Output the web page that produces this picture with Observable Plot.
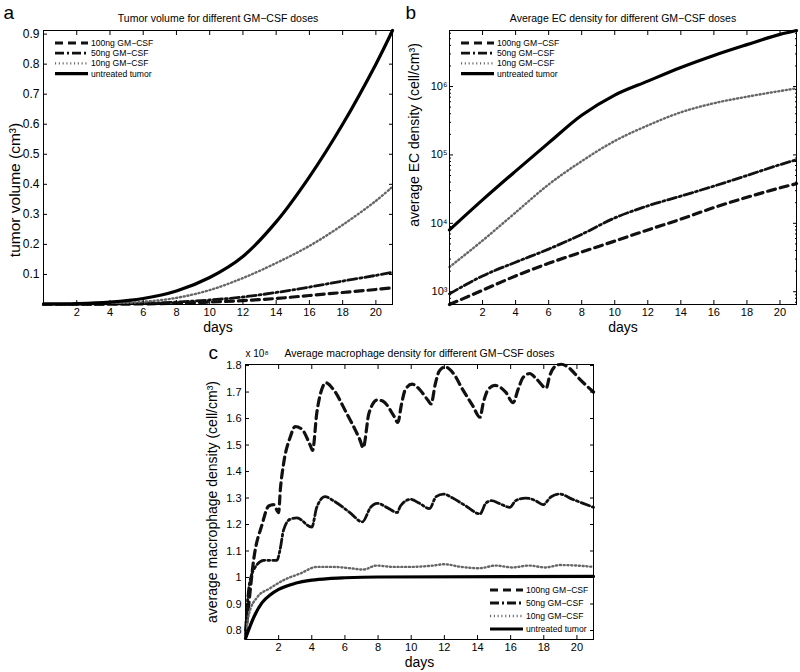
<!DOCTYPE html>
<html><head><meta charset="utf-8">
<script src="https://cdn.jsdelivr.net/npm/d3@7"></script>
<script src="https://cdn.jsdelivr.net/npm/@observablehq/plot@0.6"></script>
<style>
body{margin:0;background:#fff;}
#wrap{position:relative;width:800px;height:672px;overflow:hidden;font-family:"Liberation Sans",Arial,sans-serif;}
#wrap svg{position:absolute;overflow:visible;}
</style></head><body><div id="wrap"></div>
<script>
// ---------- data ----------
const seriesNames = ["100ng GM\u2212CSF", "50ng GM\u2212CSF", "10ng GM\u2212CSF", "untreated tumor"];

// Panel a: tumor volume (cm^3)
const daysAB = [0, 2, 4, 6, 8, 10, 12, 14, 16, 18, 20, 21];
const volume100 = [0, 0, 0.001, 0.002, 0.004, 0.008, 0.013, 0.02, 0.03, 0.04, 0.05, 0.056];
const volume50 = [0, 0.001, 0.002, 0.004, 0.008, 0.015, 0.025, 0.04, 0.058, 0.078, 0.097, 0.107];
const volume10 = [0.001, 0.001, 0.003, 0.009, 0.022, 0.048, 0.088, 0.138, 0.195, 0.265, 0.345, 0.392];
const volumeUntreated = [0.002, 0.003, 0.008, 0.02, 0.045, 0.09, 0.16, 0.275, 0.425, 0.6, 0.8, 0.912];

// Panel b: average EC density (cell/cm^3)
const ec100 = [650, 1050, 1700, 2600, 3800, 5500, 8000, 11500, 17000, 24000, 33000, 38000];
const ec50 = [930, 1700, 2700, 4200, 6900, 12000, 18000, 25000, 35000, 50000, 72000, 85000];
const ec10 = [2300, 5600, 14400, 37000, 81000, 160000, 270000, 420000, 570000, 710000, 860000, 940000];
const ecUntreated = [8000, 22000, 58000, 150000, 380000, 750000, 1200000, 1900000, 2850000, 4100000, 5800000, 6600000];

// Panel c: average macrophage density (x 1e8 cell/cm^3), [day, value]
const mac100 = [[0,0.78],[0.2,0.9],[0.5,1.07],[1.0,1.2],[1.4,1.27],[1.7,1.275],[2.0,1.245],[2.1,1.33],[2.3,1.43],[2.7,1.53],[3.0,1.57],[3.4,1.56],[3.9,1.5],[4.05,1.48],[4.3,1.62],[4.6,1.71],[4.85,1.735],[5.3,1.71],[6.1,1.62],[6.9,1.52],[7.1,1.49],[7.45,1.62],[7.95,1.67],[8.3,1.665],[8.95,1.61],[9.2,1.585],[9.4,1.65],[9.65,1.71],[10.05,1.73],[10.5,1.71],[11.0,1.67],[11.2,1.655],[11.45,1.73],[11.7,1.78],[12.05,1.795],[12.55,1.77],[13.1,1.71],[13.7,1.65],[14.15,1.605],[14.35,1.66],[14.65,1.71],[15.05,1.725],[15.7,1.7],[16.15,1.66],[16.45,1.71],[16.75,1.755],[17.15,1.77],[17.55,1.75],[18.15,1.715],[18.35,1.76],[18.65,1.795],[19.05,1.805],[19.55,1.79],[20.15,1.75],[21,1.7]];
const mac50 = [[0,0.8],[0.2,0.96],[0.5,1.03],[1.1,1.065],[1.9,1.065],[2.07,1.1],[2.3,1.18],[2.7,1.22],[3.1,1.225],[4.0,1.19],[4.3,1.265],[4.8,1.305],[5.3,1.29],[6.3,1.245],[7.05,1.21],[7.55,1.265],[7.95,1.28],[8.65,1.26],[9.15,1.245],[9.35,1.27],[9.95,1.295],[10.5,1.28],[11.1,1.26],[11.5,1.305],[11.95,1.315],[12.5,1.3],[13.3,1.27],[14.15,1.24],[14.5,1.28],[14.85,1.29],[15.3,1.28],[15.95,1.265],[16.3,1.29],[16.9,1.3],[17.5,1.29],[17.95,1.275],[18.45,1.305],[18.95,1.315],[19.75,1.295],[21,1.265]];
const mac10 = [[0,0.78],[0.2,0.86],[0.7,0.925],[1.5,0.96],[2.3,0.99],[3.3,1.015],[4.3,1.04],[5.3,1.04],[6.3,1.035],[7.1,1.03],[7.9,1.045],[8.9,1.04],[10,1.04],[11.3,1.045],[12,1.05],[13,1.04],[14.1,1.035],[15.1,1.045],[16.1,1.038],[17.1,1.045],[18.1,1.038],[19,1.047],[20,1.045],[21,1.04]];
const macUntreated = [[0,0.77],[0.5,0.85],[1,0.905],[1.5,0.935],[2,0.955],[3,0.978],[4,0.99],[5,0.996],[6,0.999],[8,1.002],[21,1.004]];

const dayTicks = [2, 4, 6, 8, 10, 12, 14, 16, 18, 20];
const volumeTicks = [0.1, 0.2, 0.3, 0.4, 0.5, 0.6, 0.7, 0.8, 0.9];
const ecTicks = [1e3, 1e4, 1e5, 1e6];
const ecTickLabels = ["10\u00B3", "10\u2074", "10\u2075", "10\u2076"];
const macTicks = [0.8, 0.9, 1.0, 1.1, 1.2, 1.3, 1.4, 1.5, 1.6, 1.7, 1.8];

// ---------- styles ----------
const lineStyles = [
  {stroke: "#111", strokeWidth: 3.2, strokeDasharray: "8,5"},
  {stroke: "#111", strokeWidth: 2.8, strokeDasharray: "9,3,2,3"},
  {stroke: "#666", strokeWidth: 2.4, strokeDasharray: "1.1,2.7"},
  {stroke: "#000", strokeWidth: 3.2}
];
const FONT = "Liberation Sans, Arial, sans-serif";
const wrap = document.getElementById("wrap");

function toPairs(xs, ys) { return xs.map((x, i) => ({x, y: ys[i]})); }

function panel(cfg) {
  const marks = [];
  cfg.series.forEach((s, i) => marks.push(Plot.line(s, {x: "x", y: "y", curve: cfg.curve, ...lineStyles[i]})));
  marks.push(Plot.frame({stroke: "black", strokeWidth: 1}));
  const ax = {tickSize: -4, tickPadding: 8, fontSize: 11, label: null};
  marks.push(Plot.axisX(dayTicks, {anchor: "bottom", ...ax}));
  marks.push(Plot.axisX(dayTicks, {anchor: "top", ...ax, tickFormat: () => ""}));
  marks.push(Plot.axisY(cfg.yTicks, {anchor: "left", ...ax, fontSize: cfg.yFont || 11, tickPadding: cfg.yPad || 8, tickFormat: cfg.yFormat}));
  marks.push(Plot.axisY(cfg.yTicks, {anchor: "right", ...ax, tickFormat: () => ""}));
  if (cfg.yMinor) {
    marks.push(Plot.axisY(cfg.yMinor, {anchor: "left", tickSize: -2, label: null, tickFormat: () => ""}));
    marks.push(Plot.axisY(cfg.yMinor, {anchor: "right", tickSize: -2, label: null, tickFormat: () => ""}));
  }
  const mid = {textAnchor: "middle", lineAnchor: "middle"};
  marks.push(Plot.text([cfg.title], {text: d => d, frameAnchor: "top", ...mid, dy: cfg.titleDy, fontSize: 10.5}));
  marks.push(Plot.text([cfg.letter], {text: d => d, frameAnchor: "top-left", textAnchor: "start", lineAnchor: "middle", dx: cfg.letterDx, dy: cfg.letterDy, fontSize: 19}));
  marks.push(Plot.text(["days"], {text: d => d, frameAnchor: "bottom", ...mid, dy: cfg.xlabelDy, fontSize: 14}));
  if (cfg.extra) marks.push(...cfg.extra);
  const svg = Plot.plot({
    width: cfg.width, height: cfg.height,
    marginLeft: cfg.m[3], marginRight: cfg.m[1], marginTop: cfg.m[0], marginBottom: cfg.m[2],
    x: {domain: [0, 21]},
    y: {type: cfg.yType || "linear", domain: cfg.yDomain},
    style: {fontFamily: FONT, fontSize: "11px", color: "black", background: "transparent", overflow: "visible"},
    marks
  });
  svg.style.left = cfg.left + "px";
  svg.style.top = cfg.top + "px";
  wrap.appendChild(svg);
  const s = d3.select(svg);
  // rotated y-axis title
  s.append("text")
    .attr("transform", `translate(${cfg.ylabelPos[0]},${cfg.ylabelPos[1]}) rotate(-90)`)
    .attr("text-anchor", "middle").attr("dy", "0.35em")
    .attr("font-family", FONT).attr("font-size", cfg.ylabelFont || 14).attr("fill", "black")
    .text(cfg.ylabel);
  // legend (swatches)
  const g = s.append("g").attr("font-family", FONT).attr("font-size", 8.6).attr("text-anchor", "start");
  seriesNames.forEach((name, i) => {
    const y = cfg.legend.y + i * cfg.legend.dy;
    const st = lineStyles[i];
    g.append("line").attr("x1", cfg.legend.x).attr("x2", cfg.legend.x + 33).attr("y1", y).attr("y2", y)
      .attr("stroke", st.stroke).attr("stroke-width", st.strokeWidth).attr("stroke-dasharray", st.strokeDasharray || null);
    g.append("text").attr("x", cfg.legend.x + 36).attr("y", y).attr("dy", "0.35em").attr("fill", "black").attr("text-anchor", "start").text(name);
  });
  return svg;
}

// Panel a
panel({
  left: 0, top: 0, width: 400, height: 340, m: [30, 8, 36, 43],
  series: [toPairs(daysAB, volume100), toPairs(daysAB, volume50), toPairs(daysAB, volume10), toPairs(daysAB, volumeUntreated)],
  curve: "catmull-rom",
  yDomain: [0, 0.912], yTicks: volumeTicks, yFormat: d => d.toFixed(1), yFont: 12,
  title: "Tumor volume for different GM\u2212CSF doses", titleDy: -12,
  letter: "a", letterDx: -40, letterDy: -18,
  ylabel: "tumor volume (cm\u00B3)", ylabelPos: [15, 190], ylabelFont: 15.5, xlabelDy: 23,
  legend: {x: 55, y: 43, dy: 10.2}
});

// Panel b
const ecMinor = [];
for (let e = 2; e <= 6; e++) for (let k = 2; k <= 9; k++) { const v = k * Math.pow(10, e); if (v >= 650 && v <= 6.6e6) ecMinor.push(v); }
panel({
  left: 400, top: 0, width: 400, height: 340, m: [30, 4, 36, 49],
  series: [toPairs(daysAB, ec100), toPairs(daysAB, ec50), toPairs(daysAB, ec10), toPairs(daysAB, ecUntreated)],
  curve: "monotone-x",
  yType: "log", yDomain: [650, 6.6e6], yTicks: ecTicks, yMinor: ecMinor, yPad: 6,
  yFormat: d => ecTickLabels[ecTicks.indexOf(d)],
  title: "Average EC density for different GM\u2212CSF doses", titleDy: -12,
  letter: "b", letterDx: -44, letterDy: -18,
  ylabel: "average EC density (cell/cm\u00B3)", ylabelPos: [14, 135], xlabelDy: 23,
  legend: {x: 61, y: 43, dy: 10.2}
});

// Panel c
const pairs = a => a.map(([x, y]) => ({x, y}));
panel({
  left: 160, top: 330, width: 480, height: 342, m: [34, 47, 33, 85],
  series: [pairs(mac100), pairs(mac50), pairs(mac10), pairs(macUntreated)],
  curve: "monotone-x",
  yDomain: [0.766, 1.804], yTicks: macTicks, yFormat: d => String(+d.toFixed(1)),
  title: "Average macrophage density for different GM\u2212CSF doses", titleDy: -11,
  letter: "c", letterDx: -37, letterDy: -12,
  ylabel: "average macrophage density (cell/cm\u00B3)", ylabelPos: [52, 172], xlabelDy: 23,
  extra: [Plot.text(["x 10\u2078"], {text: d => d, frameAnchor: "top-left", textAnchor: "start", lineAnchor: "middle", dx: 0, dy: -11, fontSize: 10})],
  legend: {x: 330, y: 260, dy: 13}
});
</script></body></html>
